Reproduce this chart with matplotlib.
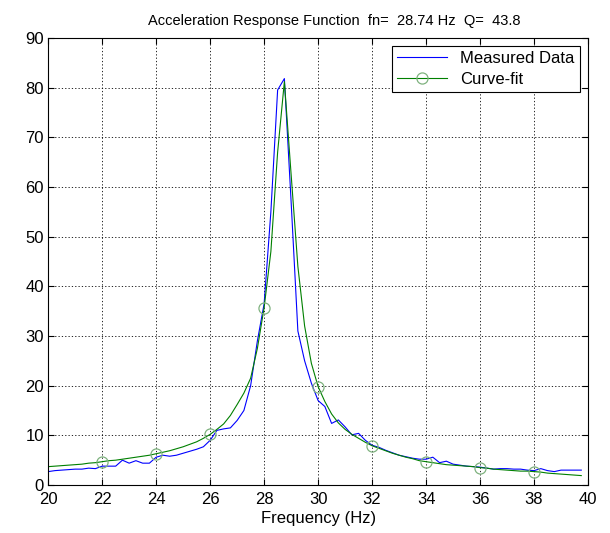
import numpy as np
import matplotlib.pyplot as plt

plt.rcParams['font.family'] = ['Liberation Sans', 'DejaVu Sans']

# frequency grid (Hz)
freq = np.arange(20, 40, 0.25)

# measured acceleration response
measured = [2.7, 2.9, 3.0, 3.1, 3.2, 3.2, 3.4, 3.3,
            3.8, 3.8, 3.8, 5.0, 4.4, 4.9, 4.4, 4.4,
            5.6, 6.0, 5.8, 6.0, 6.4, 6.8, 7.2, 7.7,
            9.0, 11.0, 11.3, 11.5, 13.0, 15.0, 20.0, 29.0,
            36.5, 55.0, 79.5, 81.8, 57.0, 31.0, 25.0, 20.5,
            17.0, 15.8, 12.4, 13.1, 11.7, 10.1, 10.4, 9.0,
            8.0, 7.6, 7.0, 6.5, 6.0, 5.7, 5.4, 5.2,
            5.2, 5.6, 4.5, 4.8, 4.2, 4.0, 3.8, 3.7,
            3.6, 3.4, 3.2, 3.3, 3.3, 3.2, 3.2, 3.0,
            2.9, 3.3, 2.9, 2.7, 3.0, 3.0, 3.0, 3.0]

# curve fit
fit = [3.7, 3.8, 3.9, 4.0, 4.1, 4.2, 4.4, 4.5,
       4.7, 4.9, 5.0, 5.2, 5.4, 5.6, 5.8, 6.0,
       6.3, 6.6, 6.9, 7.3, 7.7, 8.2, 8.7, 9.4,
       10.2, 11.2, 12.3, 14.0, 16.2, 18.5, 21.5, 27.5,
       35.7, 47.0, 67.0, 81.2, 62.5, 44.0, 32.0, 24.5,
       19.8, 16.8, 14.3, 12.5, 11.2, 10.2, 9.4, 8.6,
       7.9, 7.4, 6.9, 6.4, 6.0, 5.6, 5.3, 4.9,
       4.7, 4.5, 4.3, 4.1, 4.0, 3.9, 3.8, 3.7,
       3.5, 3.4, 3.2, 3.1, 3.0, 2.9, 2.8, 2.8,
       2.7, 2.6, 2.4, 2.3, 2.2, 2.1, 2.0, 1.9]

fn = 28.74
Q = 43.8

fig = plt.figure(figsize=(6.1, 5.33), dpi=100)
ax = fig.add_axes([0.079, 0.090, 0.885, 0.839])

ax.plot(freq, measured, color='#0000ff', lw=0.8, label='Measured Data')
ax.plot(freq, fit, color='#008000', lw=0.8, marker='o', markersize=8,
        markerfacecolor='none', markeredgecolor='#7fb27f', markeredgewidth=0.9,
        markevery=slice(8, len(freq), 8), label='Curve-fit')

ax.set_xlim(20, 40)
ax.set_ylim(0, 90)
ax.set_xticks(np.arange(20, 41, 2))
ax.set_yticks(np.arange(0, 91, 10))
ax.tick_params(direction='in', top=True, right=True, labelsize=12, length=4)
ax.tick_params(axis='x', pad=5)
ax.tick_params(axis='y', pad=3)
ax.grid(True, linestyle=(0, (1.5, 2.5)), color='k', lw=0.6)

ax.set_xlabel('Frequency (Hz)', fontsize=12, labelpad=3)
ax.set_title('Acceleration Response Function  fn=  %.2f Hz  Q=  %.1f' % (fn, Q),
             fontsize=10.5, pad=9, x=0.53)

leg = ax.legend(loc='upper right', fontsize=12, fancybox=False, framealpha=1,
                edgecolor='k', borderaxespad=0.5, handlelength=3.0,
                borderpad=0.3, labelspacing=0.35)
leg.get_frame().set_linewidth(0.8)

fig.savefig('out.png', dpi=100)
